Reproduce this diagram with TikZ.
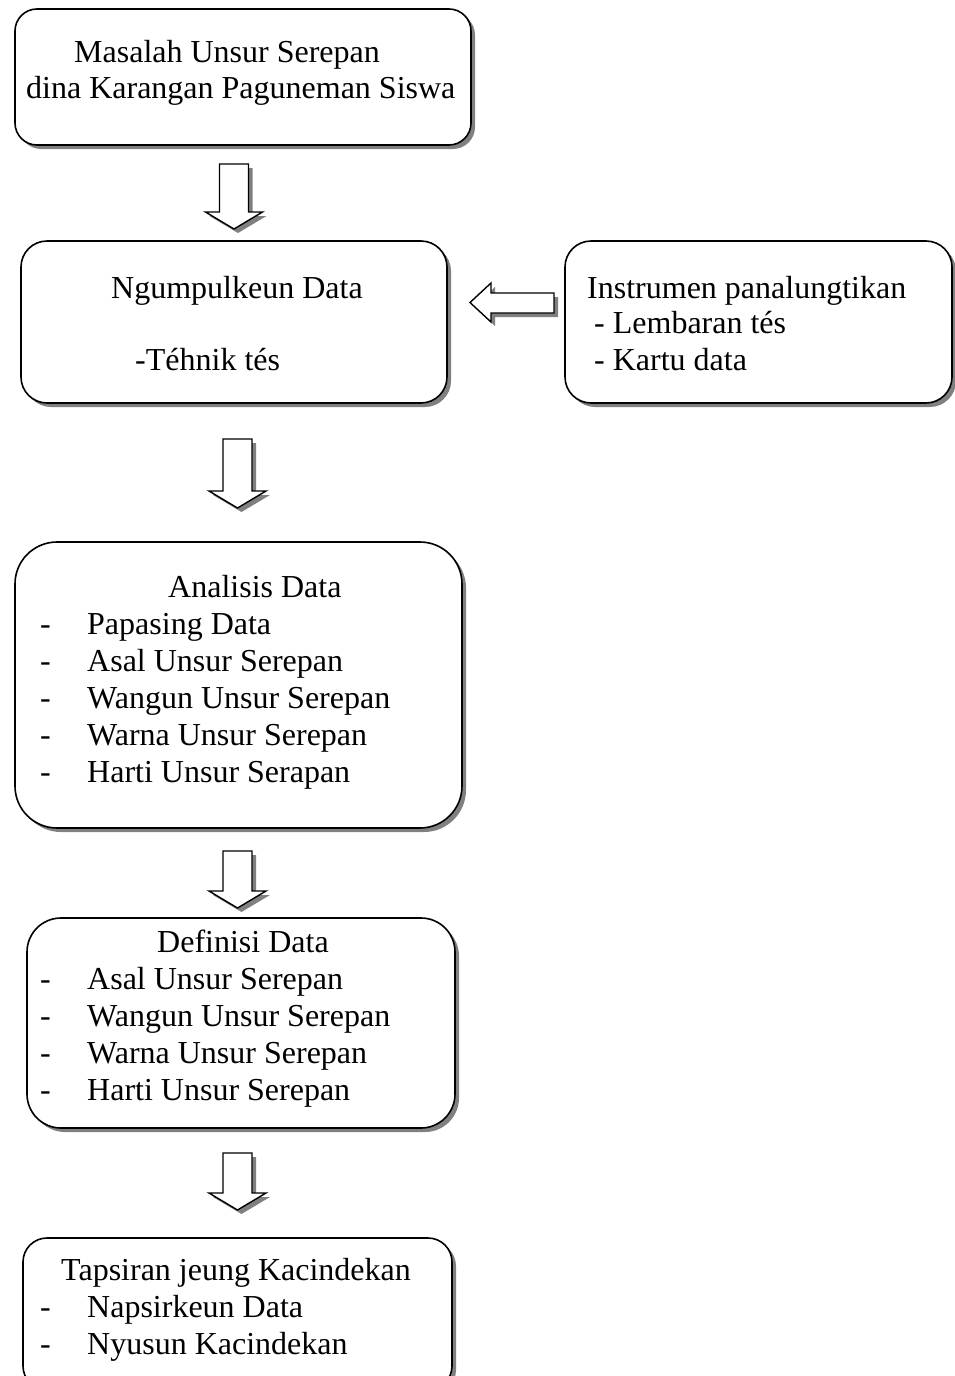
\documentclass[tikz,border=0pt]{standalone}
\usepackage{fontspec}
\setmainfont{Liberation Serif}
\usetikzlibrary{shadows}
\newcommand\blockdown[4]{%
  \fill[shd, shift={(4,4)}] (#1-14.5,#2) -- (#1+14.5,#2) -- (#1+14.5,#3) -- (#1+28.5,#3) -- (#1,#4) -- (#1-28.5,#3) -- (#1-14.5,#3) -- cycle;
  \draw[blk] (#1-14.5,#2) -- (#1+14.5,#2) -- (#1+14.5,#3) -- (#1+28.5,#3) -- (#1,#4) -- (#1-28.5,#3) -- (#1-14.5,#3) -- cycle;}
\begin{document}
\begin{tikzpicture}[x=1pt,y=-1pt,
  box/.style={draw=black, line width=1.6pt, fill=white, inner sep=0pt,
    drop shadow={shadow xshift=4pt, shadow yshift=-4pt, fill=black!50, opacity=1}},
  blk/.style={draw=black, line width=1.4pt, fill=white, line join=miter},
  shd/.style={fill=black!50},
  txt/.style={anchor=base west, inner sep=0pt, font=\fontsize{32}{37}\selectfont}]
\path[use as bounding box] (0,0) rectangle (955,1376);
\clip (0,0) rectangle (955,1376);

% boxes
\node[box, rounded corners=22, minimum width=456, minimum height=136] (b1) at (243,77) {};
\node[box, rounded corners=26, minimum width=426, minimum height=162] (b2) at (234,322) {};
\node[box, rounded corners=26, minimum width=387, minimum height=162] (bi) at (758.5,322) {};
\node[box, rounded corners=42, minimum width=447, minimum height=286] (b3) at (238.5,685) {};
\node[box, rounded corners=34, minimum width=428, minimum height=210] (b4) at (241,1023) {};
\node[box, rounded corners=24, minimum width=429, minimum height=152] (b5) at (237.5,1314) {};

% block arrows
\blockdown{234}{164}{212}{229}
\blockdown{237.5}{439}{491}{508}
\blockdown{237.5}{851}{891}{908}
\blockdown{237.5}{1153}{1193}{1210}
\fill[shd, shift={(4,4)}] (554,293) -- (554,313) -- (491,313) -- (491,322) -- (470,302.5) -- (491,283) -- (491,293) -- cycle;
\draw[blk] (554,293) -- (554,313) -- (491,313) -- (491,322) -- (470,302.5) -- (491,283) -- (491,293) -- cycle;

% texts
\node[txt] (t1a) at (74,62) {Masalah Unsur Serepan};
\node[txt] (t1b) at (26,98) {dina Karangan Paguneman Siswa};

\node[txt] (t2a) at (111,298) {Ngumpulkeun Data};
\node[txt] (t2b) at (135,370) {-Téhnik tés};

\node[txt] (tia) at (587,298) {Instrumen panalungtikan};
\node[txt] (tib) at (594,333) {- Lembaran tés};
\node[txt] (tic) at (594,370) {- Kartu data};

\node[txt] (t3) at (168,597) {Analisis Data};
\foreach \y/\s [count=\i] in {634/Papasing Data, 671/Asal Unsur Serepan, 708/Wangun Unsur Serepan, 745/Warna Unsur Serepan, 782/Harti Unsur Serapan}{
  \node[txt] (d3\i) at (40,\y) {-};
  \node[txt] (i3\i) at (87,\y) {\s};
}

\node[txt] (t4) at (157,952) {Definisi Data};
\foreach \y/\s [count=\i] in {989/Asal Unsur Serepan, 1026/Wangun Unsur Serepan, 1063/Warna Unsur Serepan, 1100/Harti Unsur Serepan}{
  \node[txt] (d4\i) at (40,\y) {-};
  \node[txt] (i4\i) at (87,\y) {\s};
}

\node[txt] (t5) at (61,1280) {Tapsiran jeung Kacindekan};
\foreach \y/\s [count=\i] in {1317/Napsirkeun Data, 1354/Nyusun Kacindekan}{
  \node[txt] (d5\i) at (40,\y) {-};
  \node[txt] (i5\i) at (87,\y) {\s};
}
\end{tikzpicture}
\end{document}
